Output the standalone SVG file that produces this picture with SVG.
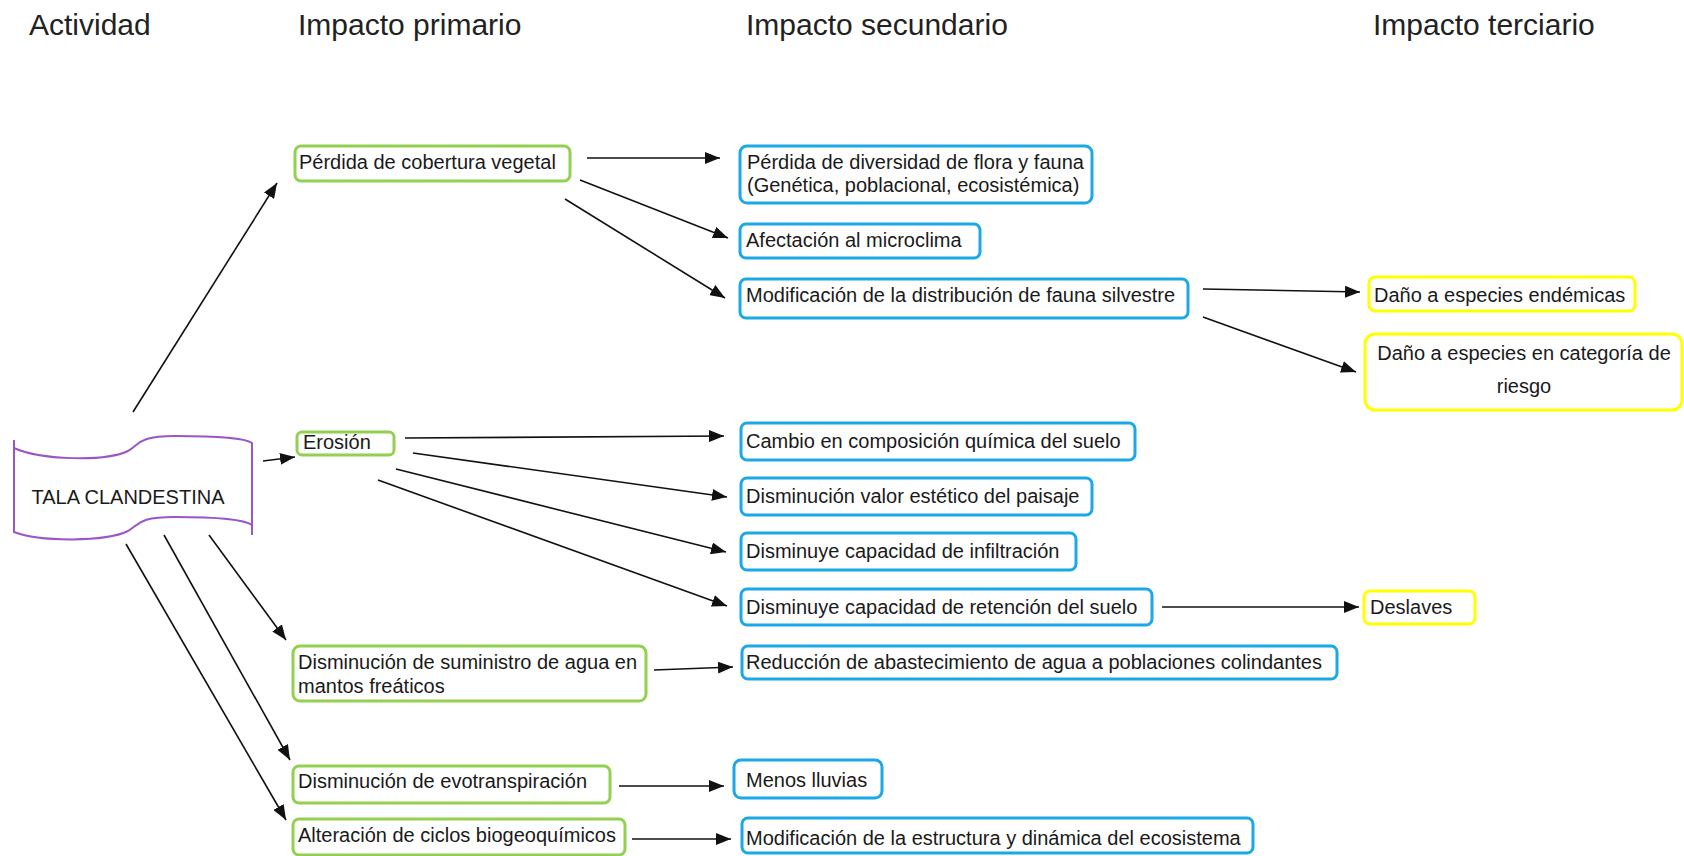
<svg xmlns="http://www.w3.org/2000/svg" width="1684" height="856" viewBox="0 0 1684 856">
<defs>
<marker id="ah" markerUnits="userSpaceOnUse" markerWidth="16" markerHeight="12" refX="15" refY="6" orient="auto">
<path d="M0,0 L15,6 L0,12 z" fill="#111"/>
</marker>
<style>
.hdr{font-family:"Liberation Sans",Arial,sans-serif;font-size:30px;fill:#222}
.t{font-family:"Liberation Sans",Arial,sans-serif;font-size:20px;fill:#1a1a1a}
.g{fill:#fff;stroke:#92d050;stroke-width:3}
.b{fill:#fff;stroke:#1ba8e6;stroke-width:3}
.y{fill:#fff;stroke:#ffff00;stroke-width:3}
.c line{stroke:#111;stroke-width:1.6;marker-end:url(#ah)}
</style>
</defs>
<rect width="1684" height="856" fill="#fff"/>

<g id="headers">
<text class="hdr" x="29" y="35">Actividad</text>
<text class="hdr" x="298" y="35">Impacto primario</text>
<text class="hdr" x="746" y="35">Impacto secundario</text>
<text class="hdr" x="1373" y="35">Impacto terciario</text>
</g>

<g id="tala">
<path d="M14,448 C40,460 105,462 128,451 C140,444 138,436 175,436 C220,436 245,438 252,443 L252,535 M252,525 C245,520 220,517 175,517 C138,517 140,524 128,531 C105,542 40,542 14,532 L14,440" fill="#fff" stroke="#9a55c8" stroke-width="2"/>
<text class="t" x="128" y="504" text-anchor="middle">TALA CLANDESTINA</text>
</g>

<g id="p1"><rect class="g" x="295" y="146" width="275" height="35" rx="6"/><text class="t" x="299" y="169">Pérdida de cobertura vegetal</text></g>
<g id="p2"><rect class="g" x="297" y="432" width="97" height="23" rx="5"/><text class="t" x="303" y="449">Erosión</text></g>
<g id="p3"><rect class="g" x="293" y="646" width="353" height="55" rx="7"/><text class="t" x="298" y="669">Disminución de suministro de agua en</text><text class="t" x="298" y="693">mantos freáticos</text></g>
<g id="p4"><rect class="g" x="293" y="766" width="317" height="37" rx="6"/><text class="t" x="298" y="788">Disminución de evotranspiración</text></g>
<g id="p5"><rect class="g" x="293" y="819" width="332" height="36" rx="6"/><text class="t" x="298" y="842">Alteración de ciclos biogeoquímicos</text></g>

<g id="s1"><rect class="b" x="740" y="146" width="352" height="57" rx="7"/><text class="t" x="747" y="169">Pérdida de diversidad de flora y fauna</text><text class="t" x="747" y="192">(Genética, poblacional, ecosistémica)</text></g>
<g id="s2"><rect class="b" x="740" y="224" width="240" height="34" rx="6"/><text class="t" x="746" y="247">Afectación al microclima</text></g>
<g id="s3"><rect class="b" x="740" y="279" width="448" height="39" rx="6"/><text class="t" x="746" y="302">Modificación de la distribución de fauna silvestre</text></g>
<g id="s4"><rect class="b" x="741" y="423" width="394" height="37" rx="6"/><text class="t" x="746" y="448">Cambio en composición química del suelo</text></g>
<g id="s5"><rect class="b" x="741" y="478" width="351" height="37" rx="6"/><text class="t" x="746" y="503">Disminución valor estético del paisaje</text></g>
<g id="s6"><rect class="b" x="741" y="533" width="335" height="37" rx="6"/><text class="t" x="746" y="558">Disminuye capacidad de infiltración</text></g>
<g id="s7"><rect class="b" x="741" y="589" width="411" height="36" rx="6"/><text class="t" x="746" y="614">Disminuye capacidad de retención del suelo</text></g>
<g id="s8"><rect class="b" x="742" y="646" width="595" height="33" rx="6"/><text class="t" x="746" y="669">Reducción de abastecimiento de agua a poblaciones colindantes</text></g>
<g id="s9"><rect class="b" x="734" y="760" width="148" height="38" rx="7"/><text class="t" x="746" y="787">Menos lluvias</text></g>
<g id="s10"><rect class="b" x="742" y="818" width="511" height="35" rx="6"/><text class="t" x="746" y="845">Modificación de la estructura y dinámica del ecosistema</text></g>

<g id="t1"><rect class="y" x="1369" y="277" width="266" height="34" rx="6"/><text class="t" x="1374" y="302">Daño a especies endémicas</text></g>
<g id="t2"><rect class="y" x="1365" y="334" width="317" height="76" rx="10"/><text class="t" x="1524" y="360" text-anchor="middle">Daño a especies en categoría de</text><text class="t" x="1524" y="393" text-anchor="middle">riesgo</text></g>
<g id="t3"><rect class="y" x="1364" y="591" width="111" height="33" rx="6"/><text class="t" x="1370" y="614">Deslaves</text></g>

<g id="connectors" class="c">
<line x1="133" y1="412" x2="277" y2="183"/>
<line x1="263" y1="461" x2="295" y2="457"/>
<line x1="209" y1="535" x2="286" y2="640"/>
<line x1="164" y1="535" x2="290" y2="760"/>
<line x1="126" y1="544" x2="286" y2="820"/>
<line x1="587" y1="158" x2="720" y2="158"/>
<line x1="580" y1="180" x2="728" y2="238"/>
<line x1="565" y1="199" x2="725" y2="298"/>
<line x1="1203" y1="289" x2="1360" y2="292"/>
<line x1="1203" y1="317" x2="1356" y2="372"/>
<line x1="405" y1="438" x2="724" y2="436"/>
<line x1="413" y1="453" x2="727" y2="497"/>
<line x1="396" y1="469" x2="726" y2="552"/>
<line x1="378" y1="480" x2="727" y2="606"/>
<line x1="1162" y1="607" x2="1359" y2="607"/>
<line x1="654" y1="670" x2="733" y2="667"/>
<line x1="619" y1="786" x2="724" y2="786"/>
<line x1="632" y1="839" x2="731" y2="839"/>
</g>
</svg>
